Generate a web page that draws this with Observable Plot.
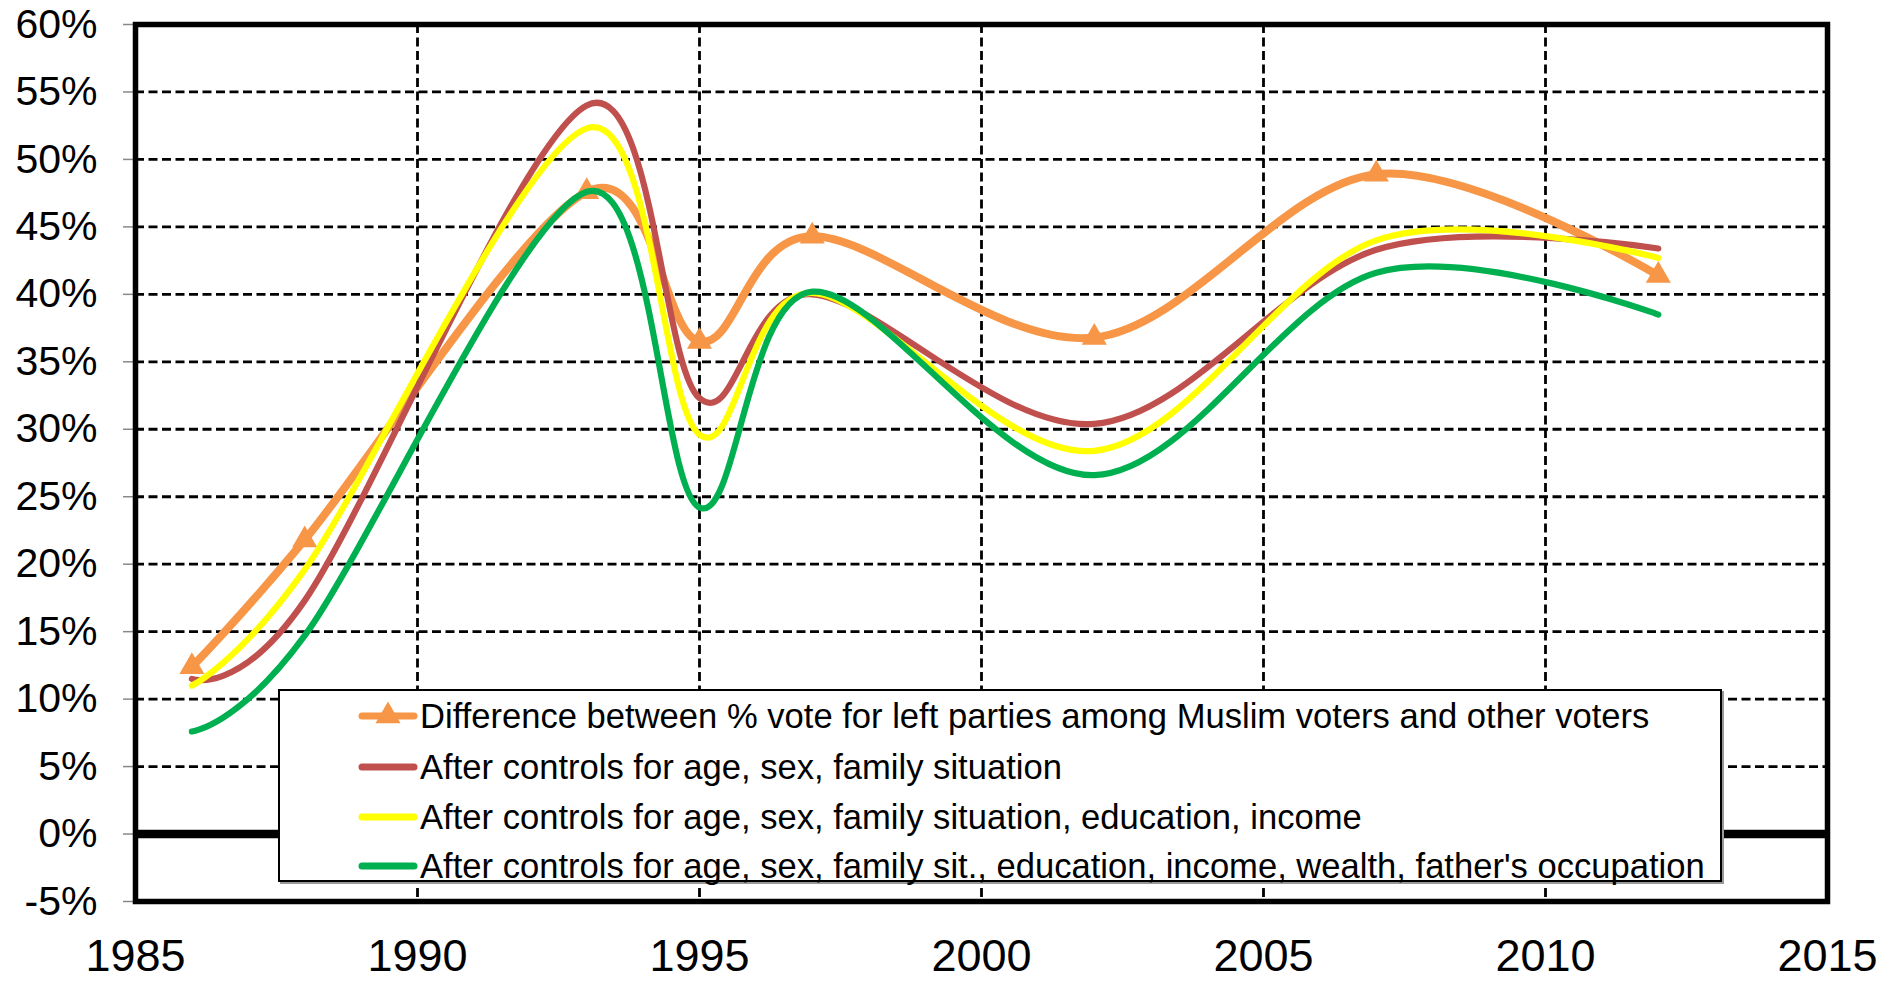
<!DOCTYPE html>
<html>
<head>
<meta charset="utf-8">
<script src="https://cdn.jsdelivr.net/npm/d3@7"></script>
<script src="https://cdn.jsdelivr.net/npm/@observablehq/plot@0.6"></script>
<style>
  html, body { margin: 0; padding: 0; background: #fff; }
  body { font-family: "Liberation Sans", Arial, sans-serif; }
  #wrap { position: relative; width: 1901px; height: 982px; overflow: hidden; }
  #legend { position: absolute; left: 278px; top: 689px; width: 1440px; height: 189px;
            background: #fff; border: 2.5px solid #000; box-shadow: 2px 2px 0 #999; }
  .row { position: absolute; left: 0; height: 50px; display: flex; align-items: center;
         font-size: 34.6px; color: #000; white-space: nowrap; }
  .row svg { margin-left: 78px; margin-right: 2px; }
</style>
</head>
<body>
<div id="wrap"><div id="chart"></div><div id="legend"></div></div>
<script>
// ---- data ----
const years = [1986, 1988, 1993, 1995, 1997, 2002, 2007, 2012];
const seriesNames = [
  "Difference between % vote for left parties among Muslim voters and other voters",
  "After controls for age, sex, family situation",
  "After controls for age, sex, family situation, education, income",
  "After controls for age, sex, family sit., education, income, wealth, father's occupation"
];
const diffRaw    = [12.4, 21.8, 47.6, 36.5, 44.3, 36.8, 48.9, 41.4];
const ctrlFamily = [11.5, 17.3, 54.0, 32.3, 40.0, 30.4, 43.3, 43.4];
const ctrlIncome = [11.0, 19.6, 52.3, 29.6, 40.1, 28.4, 44.0, 42.7];
const ctrlFull   = [7.6, 14.7, 47.6, 24.2, 40.2, 26.6, 41.6, 38.5];
const seriesColors = ["#F79646", "#C0504D", "#FFFF00", "#00B050"];
const seriesWidths = [8, 6.2, 6.2, 6.2];
const xTicks = [1985, 1990, 1995, 2000, 2005, 2010, 2015];
const yTicks = [-5, 0, 5, 10, 15, 20, 25, 30, 35, 40, 45, 50, 55, 60];

const allSeries = [diffRaw, ctrlFamily, ctrlIncome, ctrlFull];
const rows = [];
allSeries.forEach((vals, s) => vals.forEach((v, i) => rows.push({series: s, year: years[i], value: v})));

const lineMarks = allSeries.map((vals, s) =>
  Plot.line(rows.filter(d => d.series === s), {
    x: "year", y: "value", stroke: seriesColors[s], strokeWidth: seriesWidths[s],
    curve: "cardinal", strokeLinecap: "round", strokeLinejoin: "round"
  })
);

const chart = Plot.plot({
  width: 1901,
  height: 982,
  marginLeft: 135,
  marginRight: 74,
  marginTop: 24,
  marginBottom: 81,
  style: {fontFamily: "'Liberation Sans', Arial, sans-serif", color: "#000", background: "#fff", overflow: "visible"},
  x: {domain: [1985, 2015], label: null},
  y: {domain: [-5, 60], label: null},
  marks: [
    Plot.gridY(yTicks.filter(t => t > -5 && t < 60), {stroke: "#000", strokeOpacity: 1, strokeWidth: 2.8, strokeDasharray: "9,4.5"}),
    Plot.gridX(xTicks.filter(t => t > 1985 && t < 2015), {stroke: "#000", strokeOpacity: 1, strokeWidth: 2.8, strokeDasharray: "9,4.5"}),
    Plot.ruleY([0], {stroke: "#000", strokeWidth: 8.5}),
    lineMarks[0],
    Plot.dot(rows.filter(d => d.series === 0), {x: "year", y: "value", symbol: "triangle", r: 9.3, fill: seriesColors[0], stroke: "none"}),
    lineMarks[1],
    lineMarks[2],
    lineMarks[3],
    Plot.axisY({ticks: yTicks, tickFormat: d => d + "%", tickSize: 12, tickPadding: 26, fontSize: 41, stroke: "#888", strokeWidth: 1.5, label: null}),
    Plot.axisX({ticks: xTicks, tickFormat: d => String(d), tickSize: 0, tickPadding: 38, fontSize: 45, label: null}),
    Plot.frame({stroke: "#000", strokeWidth: 5.5})
  ]
});
document.getElementById("chart").appendChild(chart);

// ---- legend ----
const legend = document.getElementById("legend");
const rowTops = [0, 51, 101, 150];
seriesNames.forEach((name, s) => {
  const r = document.createElement("div");
  r.className = "row";
  r.style.top = rowTops[s] + "px";
  const ns = "http://www.w3.org/2000/svg";
  const sw = document.createElementNS(ns, "svg");
  sw.setAttribute("width", 60); sw.setAttribute("height", 30);
  const ln = document.createElementNS(ns, "line");
  ln.setAttribute("x1", 4); ln.setAttribute("x2", 56); ln.setAttribute("y1", 15); ln.setAttribute("y2", 15);
  ln.setAttribute("stroke", seriesColors[s]); ln.setAttribute("stroke-width", 7);
  ln.setAttribute("stroke-linecap", "round");
  sw.appendChild(ln);
  if (s === 0) {
    const tri = document.createElementNS(ns, "path");
    tri.setAttribute("d", d3.symbol(d3.symbolTriangle, Math.PI * 9.3 * 9.3)());
    tri.setAttribute("transform", "translate(30,15)");
    tri.setAttribute("fill", seriesColors[0]);
    sw.appendChild(tri);
  }
  r.appendChild(sw);
  const t = document.createElement("span");
  t.textContent = name;
  r.appendChild(t);
  legend.appendChild(r);
});
</script>
</body>
</html>
